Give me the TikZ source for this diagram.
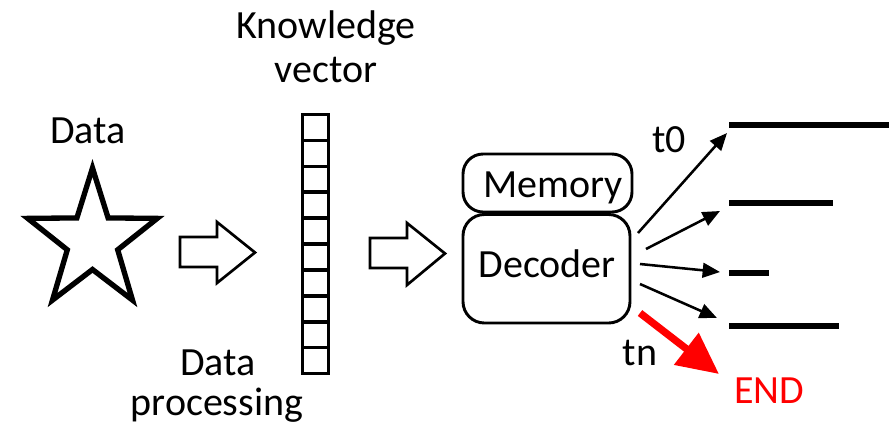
\documentclass[tikz,border=0pt]{standalone}
\usepackage{fontspec}
\setmainfont{Carlito}
\usetikzlibrary{arrows.meta}
\begin{document}
\begin{tikzpicture}[x=0.75pt,y=-0.75pt,
    lbl/.style={anchor=base,inner sep=0pt,font=\fontsize{30}{36}\selectfont},
    blockarrow/.style={draw=black,line width=2pt,fill=white,line join=miter},
    box/.style={draw=black,line width=2.2pt},
    thinarrow/.style={line width=1.9pt,-{Triangle[length=13pt,width=11pt]}},
    outline/.style={line width=5pt,line cap=butt}]
\useasboundingbox (0,0) rectangle (889,437);

% data star
\draw[line width=4pt,line join=miter]
  (92.5,168) -- (108.1,217.9) -- (157.2,218.4) -- (117.7,249.8) -- (132.5,300.1)
  -- (92.5,269.5) -- (52.5,300.1) -- (67.3,249.8) -- (27.8,218.4) -- (76.9,217.9) -- cycle;
\node[lbl] (data) at (88,143) {Data};

% processing arrow
\draw[blockarrow] (180,237) -- (217,237) -- (217,222) -- (255,252.5) -- (217,283) -- (217,267) -- (180,267) -- cycle;
\node[lbl] (dp1) at (218,375) {Data};
\node[lbl] (dp2) at (217,415) {processing};

% knowledge vector
\node[lbl] (kv1) at (326,38) {Knowledge};
\node[lbl] (kv2) at (326,82) {vector};
\node[draw,line width=2.7pt,minimum width=26*0.75pt,minimum height=259*0.75pt,inner sep=0pt] (vec) at (315.5,244) {};
\foreach \i in {1,...,9}
  \draw[line width=2.7pt] (302.5,114.5+25.9*\i) -- (328.5,114.5+25.9*\i);

% second arrow
\draw[blockarrow] (370,238) -- (407,238) -- (407,223) -- (445,253.5) -- (407,285) -- (407,268) -- (370,268) -- cycle;

% memory and decoder
\draw[box,rounded corners=15pt] (463,154) rectangle (632,212);
\node[lbl] (mem) at (553,197) {Memory};
\draw[box,rounded corners=16pt] (463,214.5) rectangle (630,323);
\node[lbl] (dec) at (547,277) {Decoder};

% output sequences
\coordinate (s1) at (638,233);
\coordinate (s2) at (646,249);
\coordinate (s3) at (640,264);
\coordinate (s4) at (640,284);
\coordinate (s5) at (640,313);
\coordinate (e1) at (727,133);
\coordinate (e2) at (720,211);
\coordinate (e3) at (720,272);
\coordinate (e4) at (717,318);
\coordinate (e5) at (719,374);
\draw[thinarrow] (s1) -- (e1);
\draw[thinarrow] (s2) -- (e2);
\draw[thinarrow] (s3) -- (e3);
\draw[thinarrow] (s4) -- (e4);
\draw[red,line width=5.5pt,-{Triangle[length=31pt,width=29pt]}] (s5) -- (e5);

\draw[outline] (729,125) -- (889,125);
\draw[outline] (729,203) -- (833,203);
\draw[outline] (729,273) -- (769,273);
\draw[outline] (729,326) -- (839,326);

\node[lbl] (t0) at (669,152) {t0};
\node[lbl] (tn) at (640,365) {tn};
\node[lbl,text=red] (end) at (769,403) {END};
\end{tikzpicture}
\end{document}
